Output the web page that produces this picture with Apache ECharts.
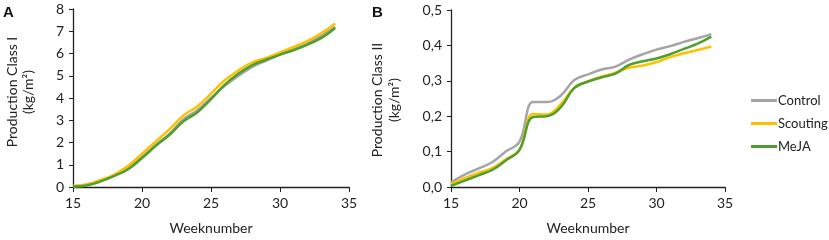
<!DOCTYPE html>
<html><head><meta charset="utf-8">
<script src="https://cdn.jsdelivr.net/npm/echarts@6/dist/echarts.min.js"></script>
<style>html,body{margin:0;padding:0;background:#fff}#c{width:829px;height:240px}</style>
</head><body><div id="c"></div>
<script>
const weeks = [15,16,17,18,19,20,21,22,23,24,25,26,27,28,29,30,31,32,33,34];
const seriesNames = ['Control','Scouting','MeJA'];
const colors = ['#A5A5A5','#FFC000','#4E9F2D'];
// Panel A: Production Class I (kg/m2)
const aControl  = [0.03,0.10,0.28,0.52,0.85,1.35,1.90,2.40,3.05,3.45,4.00,4.55,5.00,5.40,5.68,5.95,6.20,6.45,6.80,7.20];
const aScouting = [0.04,0.12,0.32,0.56,0.95,1.50,2.05,2.60,3.22,3.62,4.20,4.80,5.25,5.60,5.80,6.05,6.30,6.57,6.92,7.35];
const aMeJA     = [0.02,0.07,0.25,0.50,0.80,1.30,1.85,2.35,2.95,3.35,3.95,4.60,5.10,5.48,5.72,5.95,6.15,6.40,6.70,7.15];
// Panel B: Production Class II (kg/m2)
const bControl  = [0.013,0.035,0.052,0.070,0.100,0.128,0.240,0.240,0.258,0.302,0.318,0.332,0.340,0.360,0.375,0.388,0.398,0.410,0.420,0.432];
const bScouting = [0.008,0.025,0.040,0.053,0.078,0.105,0.206,0.205,0.233,0.280,0.298,0.312,0.323,0.337,0.343,0.353,0.367,0.378,0.387,0.397];
const bMeJA     = [0.003,0.018,0.033,0.048,0.075,0.105,0.198,0.200,0.225,0.280,0.298,0.310,0.320,0.345,0.355,0.363,0.375,0.390,0.405,0.425];
const xTicks = [15,20,25,30,35];

const font = 'Lato, "Open Sans", sans-serif';
const pair = arr => weeks.map((w,i)=>[w,arr[i]]);
const axisLine = {show:true,lineStyle:{color:'#222',width:1.3}};
function xAxis(idx){
  return {type:'value',gridIndex:idx,min:xTicks[0],max:xTicks[xTicks.length-1],interval:5,
    axisLine:axisLine,axisTick:{show:true,length:5,lineStyle:{color:'#222'}},
    splitLine:{show:false},
    axisLabel:{fontSize:14,color:'#222',fontFamily:font,margin:9},
    name:'Weeknumber',nameLocation:'middle',nameGap:34,
    nameTextStyle:{fontSize:14,color:'#222',fontFamily:font}};
}
function yAxis(idx,max,interval,fmt){
  return {type:'value',gridIndex:idx,min:0,max:max,interval:interval,
    axisLine:axisLine,axisTick:{show:true,length:4,lineStyle:{color:'#222'}},
    splitLine:{show:false},
    axisLabel:{fontSize:14,color:'#222',fontFamily:font,margin:9,formatter:fmt}};
}
const data = [[aControl,aScouting,aMeJA],[bControl,bScouting,bMeJA]];
const series = [];
[0,1].forEach(g=>{
  seriesNames.forEach((n,i)=>{
    series.push({name:n,type:'line',xAxisIndex:g,yAxisIndex:g,data:pair(data[g][i]),
      smooth:0.4,symbol:'none',lineStyle:{color:colors[i],width:2.5},itemStyle:{color:colors[i]},
      z: i===1?3:(i===2?4:2)});
  });
});
const chart = echarts.init(document.getElementById('c'));
chart.setOption({
  animation:false,
  grid:[{left:73,right:480,top:9,bottom:50},{left:451,right:104,top:10,bottom:50}],
  xAxis:[xAxis(0),xAxis(1)],
  yAxis:[yAxis(0,8,1,v=>String(v)),yAxis(1,0.5,0.1,v=>v.toFixed(1).replace('.',','))],
  legend:{orient:'vertical',left:746,top:89,itemWidth:26,itemHeight:3,itemGap:10,icon:'rect',
    data:seriesNames,textStyle:{fontSize:13,color:'#222',fontFamily:font,padding:[0,0,0,-4]},itemStyle:{borderWidth:0}},
  graphic:[
    {type:'text',left:3,top:5,style:{text:'A',font:'bold 15px "Liberation Sans", Arial, sans-serif',fill:'#111'}},
    {type:'text',left:372,top:5,style:{text:'B',font:'bold 15px "Liberation Sans", Arial, sans-serif',fill:'#111'}},
    {type:'text',x:20,y:92,rotation:Math.PI/2,style:{text:'Production Class I\n(kg/m²)',font:'14px '+font,fill:'#222',align:'center',verticalAlign:'middle',lineHeight:16}},
    {type:'text',x:386,y:100,rotation:Math.PI/2,style:{text:'Production Class II\n(kg/m²)',font:'14px '+font,fill:'#222',align:'center',verticalAlign:'middle',lineHeight:17}}
  ],
  series:series
});
</script></body></html>
